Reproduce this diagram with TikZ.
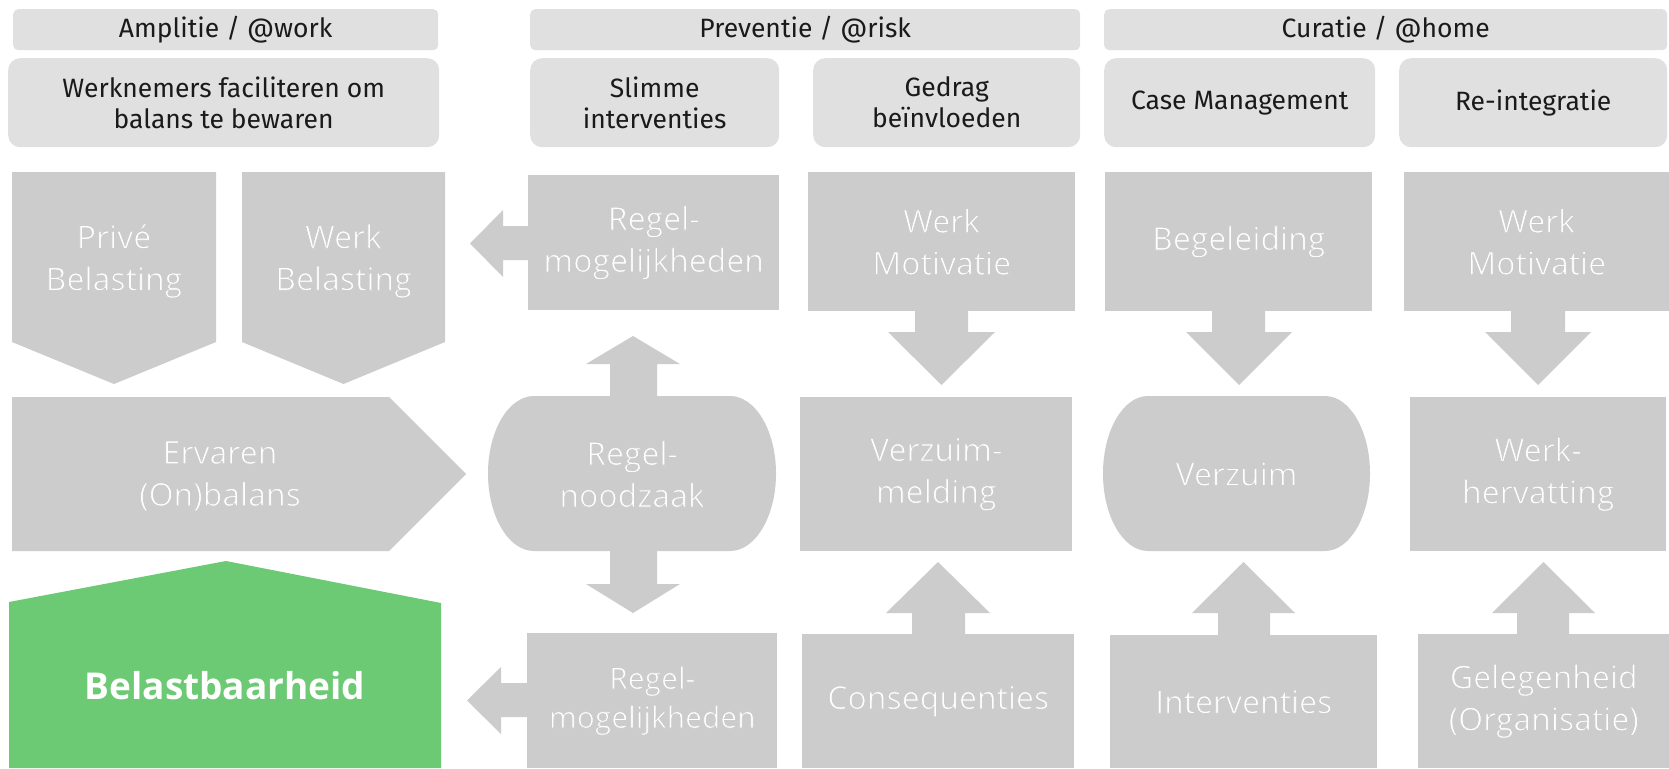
\documentclass[tikz,border=0pt]{standalone}
\usepackage{fontspec}
\setmainfont{Open Sans}
\newfontfamily\hdfont{Fira Sans}
\newfontfamily\lightfont{Open Sans}[RawFeature={embolden=2.6}]
\newcommand\lt{\color{white}\special{pdf:literal direct 0.8 0.8 0.8 RG}}
\definecolor{boxgray}{HTML}{CCCCCC}
\definecolor{hdgray}{HTML}{E0E0E0}
\definecolor{grn}{HTML}{6BCA73}
\definecolor{hdtext}{HTML}{1A1A1A}
\tikzset{
  hdbox/.style={fill=hdgray, rounded corners=5pt, inner sep=0pt, anchor=north west,
    font=\hdfont\fontsize{26.5}{31}\selectfont, text=hdtext, align=center},
  subbox/.style={fill=hdgray, rounded corners=12pt, inner sep=0pt, anchor=north west,
    font=\hdfont\fontsize{26.5}{31}\selectfont, text=hdtext, align=center},
  shp/.style={fill=boxgray},
  graybox/.style={fill=boxgray, inner sep=0pt, anchor=north west,
    font=\lightfont\fontsize{32}{42}\selectfont, text=white, align=center},
  bodytxt/.style={font=\lightfont\fontsize{32}{42}\selectfont, text=white, align=center, inner sep=0pt},
}
\begin{document}
\begin{tikzpicture}[x=1pt,y=-1pt]
\useasboundingbox (0,0) rectangle (1669,768);
\fill[white] (0,0) rectangle (1669,768);

% header row
\node[hdbox, minimum width=425pt, minimum height=41pt] (h1) at (13,9) {Amplitie / @work};
\node[hdbox, minimum width=550pt, minimum height=41pt] (h2) at (530,9) {Preventie / @risk};
\node[hdbox, minimum width=563pt, minimum height=41pt] (h3) at (1104,9) {Curatie / @home};

% sub header row
\node[subbox, minimum width=431pt, minimum height=89pt] (s1) at (8,58) {Werknemers faciliteren om\\balans te bewaren};
\node[subbox, minimum width=249pt, minimum height=89pt] (s2) at (530,58) {Slimme\\interventies};
\node[subbox, minimum width=267pt, minimum height=89pt] (s3) at (813,58) {Gedrag\\beïnvloeden};
\node[subbox, minimum width=271pt, minimum height=89pt] (s4) at (1104,58) {Case Management};
\node[subbox, minimum width=268pt, minimum height=89pt] (s5) at (1399,58) {Re-integratie};

% column 1/2: pentagons
\fill[shp] (12,172) -- (216,172) -- (216,342) -- (114,384) -- (12,342) -- cycle;
\node[bodytxt] (prive) at (114,261) {\lt Privé\\\lt Belasting};
\fill[shp] (242,172) -- (445,172) -- (445,342) -- (343.5,384) -- (242,342) -- cycle;
\node[bodytxt] (wbel) at (343.5,261) {\lt Werk\\\lt Belasting};

% Ervaren (On)balans
\fill[shp] (12,397) -- (389,397) -- (466,474) -- (389,551) -- (12,551) -- cycle;
\node[bodytxt] (erv) at (220,476) {\lt Ervaren\\\lt (On)balans};

% Belastbaarheid
\fill[grn] (9,768) -- (9,602) -- (226,561) -- (441,603) -- (441,768) -- cycle;
\node[font=\bfseries\fontsize{37}{44}\selectfont, text=white, inner sep=0pt] (bel) at (225,686) {Belastbaarheid};

% column 3
\node[graybox, minimum width=251pt, minimum height=135pt] (rm1) at (528,175) {\lt Regel-\\\lt mogelijkheden};
\fill[shp] (rm1.west |- 0,226) -- (503,226) -- (503,210) -- (470,243.5) -- (503,277) -- (503,260) -- (rm1.west |- 0,260) -- cycle;

\fill[shp] (610,397) -- (610,364) -- (586,364) -- (633,336) -- (680,364) -- (657,364) -- (657,397) -- cycle;
\fill[shp] (534,396) -- (730,396) arc[start angle=90, end angle=-90, x radius=46pt, y radius=77.5pt]
  -- (534,551) arc[start angle=270, end angle=90, x radius=46pt, y radius=77.5pt] -- cycle;
\node[bodytxt] (rn) at (632,474) {\lt Regel-\\\lt noodzaak};
\fill[shp] (610,550) -- (657,550) -- (657,584) -- (680,584) -- (633,613) -- (586,584) -- (610,584) -- cycle;

\node[graybox, minimum width=250pt, minimum height=135pt, font=\lightfont\fontsize{30}{39}\selectfont] (rm2) at (527,633) {\lt Regel-\\\lt mogelijkheden};
\fill[shp] (rm2.west |- 0,683) -- (501,683) -- (501,667) -- (467,700.5) -- (501,734) -- (501,717) -- (rm2.west |- 0,717) -- cycle;

% column 4
\node[graybox, minimum width=267pt, minimum height=139pt] (wm1) at (808,172) {\lt Werk\\\lt Motivatie};
\fill[shp] (915,310) -- (968,310) -- (968,332) -- (995,332) -- (941.5,385) -- (888,332) -- (915,332) -- cycle;
\node[graybox, minimum width=272pt, minimum height=154pt] (vm) at (800,397) {\lt Verzuim-\\\lt melding};
\fill[shp] (912,635) -- (912,613) -- (886,613) -- (938,562) -- (990,613) -- (965,613) -- (965,635) -- cycle;
\node[graybox, minimum width=272pt, minimum height=134pt] (cons) at (802,634) {\lt Consequenties};

% column 5
\node[graybox, minimum width=267pt, minimum height=139pt] (beg) at (1105,172) {\lt Begeleiding};
\fill[shp] (1212,310) -- (1265,310) -- (1265,332) -- (1292,332) -- (1239,385) -- (1186,332) -- (1212,332) -- cycle;
\fill[shp] (1148,396) -- (1325,396) arc[start angle=90, end angle=-90, x radius=45pt, y radius=77.5pt]
  -- (1148,551) arc[start angle=270, end angle=90, x radius=45pt, y radius=77.5pt] -- cycle;
\node[bodytxt] (verz) at (1236.5,474) {\lt Verzuim};
\fill[shp] (1218,636) -- (1218,613) -- (1192,613) -- (1243.5,562) -- (1295,613) -- (1270,613) -- (1270,636) -- cycle;
\node[graybox, minimum width=267pt, minimum height=133pt] (intv) at (1110,635) {\lt Interventies};

% column 6
\node[graybox, minimum width=265pt, minimum height=139pt] (wm2) at (1404,172) {\lt Werk\\\lt Motivatie};
\fill[shp] (1511,310) -- (1565,310) -- (1565,332) -- (1591,332) -- (1538,385) -- (1485,332) -- (1511,332) -- cycle;
\node[graybox, minimum width=256pt, minimum height=154pt] (wh) at (1410,397) {\lt Werk-\\\lt hervatting};
\fill[shp] (1517,635) -- (1517,613) -- (1492,613) -- (1543.5,562) -- (1595,613) -- (1569,613) -- (1569,635) -- cycle;
\node[graybox, minimum width=251pt, minimum height=134pt] (gel) at (1418,634) {\lt Gelegenheid\\\lt (Organisatie)};
\end{tikzpicture}
\end{document}
